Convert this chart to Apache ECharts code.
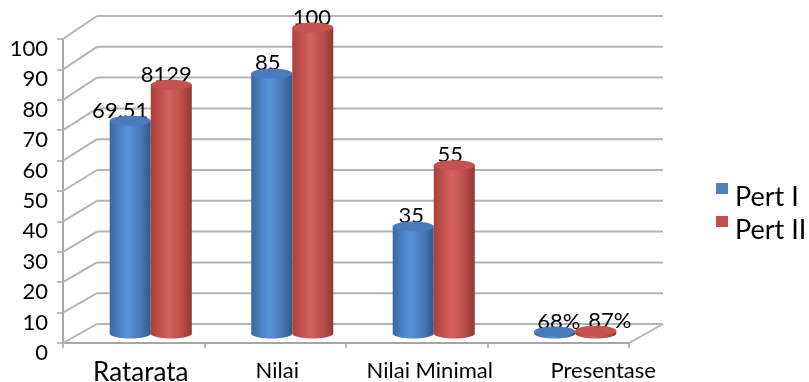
<!DOCTYPE html>
<html><head><meta charset="utf-8">
<script src="https://cdn.jsdelivr.net/npm/echarts@6/dist/echarts.min.js"></script>
<style>html,body{margin:0;padding:0;background:#fff}#c{width:809px;height:382px}</style>
</head><body><div id="c"></div>
<script>
// ---- data ----
const categories = ['Ratarata', 'Nilai', 'Nilai Minimal', 'Presentase'];
const seriesNames = ['Pert I', 'Pert II'];
const pert1Values = [69.51, 85, 35, 0.68];
const pert2Values = [81.29, 100, 55, 0.87];
const pert1Labels = ['69.51', '85', '35', '68%'];
const pert2Labels = ['8129', '100', '55', '87%'];
const yTicks = [0, 10, 20, 30, 40, 50, 60, 70, 80, 90, 100];

// ---- style constants ----
const DX = 34;                       // depth offset (px) to back wall
function dyAt(v) { return -19 - 4 * (v / 100); }
const FONT = 'Lato';
const gridStyle = { stroke: '#b5b5b5', lineWidth: 2 };
// horizontal nudge of each value label relative to its bar centre (styling)
const labelNudge = [[-10, -4, -2, 4], [-5, -1, -4, 14]];
const palettes = [
  { body: ['#3a679f', '#4f86cc', '#5a92d6', '#4778b8', '#2f5a8c'], top: '#4a7cbd', name: '#4F81BD' },
  { body: ['#a8413e', '#c95652', '#d4625e', '#bb4e4a', '#933835'], top: '#c4534f', name: '#C0504D' }
];

function wallItem(params, api) {
  const cs = params.coordSys;
  const v = api.value(1);
  const y = api.coord([0, v])[1];
  const dy = dyAt(v);
  const x0 = cs.x, x1 = cs.x + cs.width;
  const children = [
    { type: 'line', shape: { x1: x0, y1: y, x2: x0 + DX, y2: y + dy }, style: gridStyle },
    { type: 'line', shape: { x1: x0 + DX, y1: y + dy, x2: x1 + DX, y2: y + dy }, style: gridStyle }
  ];
  if (v === 0) {
    children.push({ type: 'line', shape: { x1: x1, y1: y, x2: x1 + DX, y2: y + dy }, style: gridStyle });
  }
  return { type: 'group', children };
}

function makeBar(sIdx, labels) {
  const pal = palettes[sIdx];
  return function (params, api) {
    const i = api.value(0), v = api.value(1);
    const p = api.coord([i, v]);
    const y0 = api.coord([i, 0])[1];
    const band = api.size([1, 0])[0];
    const w = band * 0.29;
    const cx = p[0] + DX / 2 + (sIdx === 0 ? -w / 2 : w / 2);
    const yt = p[1] + dyAt(v) / 2;
    const yb = y0 + dyAt(0) / 2;
    const rx = w / 2, ry = 5;
    const grad = new echarts.graphic.LinearGradient(0, 0, 1, 0, [
      { offset: 0, color: pal.body[0] },
      { offset: 0.3, color: pal.body[1] },
      { offset: 0.45, color: pal.body[2] },
      { offset: 0.75, color: pal.body[3] },
      { offset: 1, color: pal.body[4] }
    ]);
    return {
      type: 'group',
      children: [
        { type: 'text', style: { text: labels[i], x: cx + labelNudge[sIdx][i], y: yt + 1, align: 'center', verticalAlign: 'bottom',
            fontFamily: FONT, fontSize: 22, fill: '#000' } },
        { type: 'ellipse', shape: { cx: cx, cy: yb, rx: rx, ry: ry }, style: { fill: grad } },
        { type: 'rect', shape: { x: cx - rx, y: yt, width: w, height: Math.max(0, yb - yt) }, style: { fill: grad } },
        { type: 'ellipse', shape: { cx: cx, cy: yt, rx: rx, ry: ry }, style: { fill: pal.top } }
      ]
    };
  };
}

const chart = echarts.init(document.getElementById('c'), null, { renderer: 'canvas' });
chart.setOption({
  animation: false,
  backgroundColor: '#fff',
  grid: { left: 63, right: 180, top: 39, bottom: 39, outerBoundsMode: 'none', containLabel: false },
  legend: {
    data: seriesNames,
    orient: 'vertical',
    left: 711, top: 176,
    icon: 'path://M0,0H12V11H0Z M0,28H0.01',
    itemWidth: 12, itemHeight: 28, itemGap: 1,
    textStyle: { fontFamily: FONT, fontSize: 27, color: '#000', lineHeight: 32, padding: [0, 0, 0, 2] }
  },
  xAxis: {
    type: 'category',
    data: categories,
    axisLine: { show: true, lineStyle: { color: '#a6a6a6', width: 2 } },
    axisTick: { show: true, interval: 0, length: 5, lineStyle: { color: '#a6a6a6', width: 1.5 } },
    axisLabel: {
      interval: 0, margin: 16, color: '#000', fontFamily: FONT, fontSize: 22,
      formatter: function (val, idx) { return '{c' + idx + '|' + val + '}'; },
      rich: {
        c0: { fontFamily: FONT, fontSize: 26, lineHeight: 24, padding: [4, 0, 0, 14], color: '#000' },
        c1: { fontFamily: FONT, fontSize: 22, lineHeight: 24, padding: [0, 0, 0, 4], color: '#000' },
        c2: { fontFamily: FONT, fontSize: 22, lineHeight: 24, padding: [0, 0, 0, 26], color: '#000' },
        c3: { fontFamily: FONT, fontSize: 22, lineHeight: 24, padding: [0, 0, 0, 90], color: '#000' }
      }
    }
  },
  yAxis: {
    type: 'value', min: 0, max: 100, interval: 10,
    axisLine: { show: true, lineStyle: { color: '#a6a6a6', width: 2 } },
    axisTick: { show: true, length: 6, lineStyle: { color: '#a6a6a6', width: 1.5 } },
    splitLine: { show: false },
    axisLabel: { color: '#000', fontFamily: FONT, fontSize: 22, margin: 15, verticalAlign: 'top', lineHeight: 20 }
  },
  series: [
    {
      type: 'custom', name: 'wall', silent: true, z: 1,
      data: yTicks.map(v => [0, v]),
      renderItem: wallItem
    },
    {
      type: 'custom', name: seriesNames[0], z: 3,
      itemStyle: { color: palettes[0].name },
      data: pert1Values.map((v, i) => [i, v]),
      renderItem: makeBar(0, pert1Labels)
    },
    {
      type: 'custom', name: seriesNames[1], z: 4,
      itemStyle: { color: palettes[1].name },
      data: pert2Values.map((v, i) => [i, v]),
      renderItem: makeBar(1, pert2Labels)
    }
  ]
});
</script>
</body></html>
